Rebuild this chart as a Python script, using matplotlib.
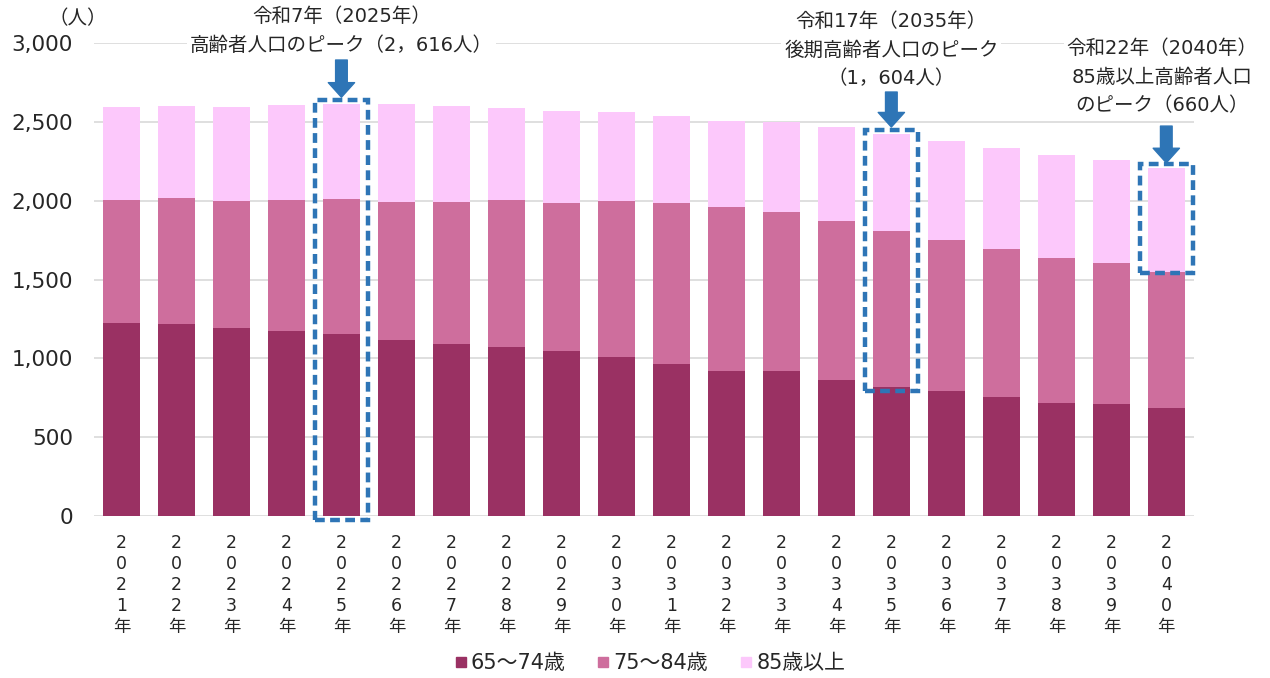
import matplotlib.pyplot as plt
import matplotlib.patches as mpatches
from matplotlib.lines import Line2D
import numpy as np

# 数字は DejaVu Sans、かな・漢字は Noto Sans CJK JP で描く
plt.rcParams['font.family'] = ['DejaVu Sans', 'Noto Sans CJK JP']

# 年次と年齢階級別の高齢者人口（人）
years = list(range(2021, 2041))
age_65_74 = [1224, 1218, 1192, 1173, 1154, 1118, 1089, 1072, 1046, 1008,
             964, 920, 920, 863, 818, 793, 757, 719, 712, 683]
age_75_84 = [780, 799, 806, 831, 855, 876, 901, 932, 939, 990,
             1021, 1040, 1008, 1008, 992, 957, 934, 919, 895, 867]
age_85_over = [590, 583, 596, 603, 607, 619, 610, 584, 584, 564,
               552, 545, 571, 596, 612, 628, 641, 650, 649, 660]

series_names = ['65～74歳', '75～84歳', '85歳以上']
colors = ['#9A3163', '#CE6E9D', '#FCC8FB']
tick_labels = ['\n'.join(str(y)) + '\n年' for y in years]

fig = plt.figure(figsize=(12.7, 6.78), dpi=100)
ax = fig.add_axes([0.074, 0.2389, 0.866, 0.6977])

x = np.arange(len(years))
low = np.array(age_65_74)
mid = np.array(age_75_84)
top = np.array(age_85_over)
total = low + mid + top

w = 0.67
ax.bar(x, low, w, color=colors[0], zorder=2)
ax.bar(x, mid, w, bottom=low, color=colors[1], zorder=2)
ax.bar(x, top, w, bottom=low + mid, color=colors[2], zorder=2)

ax.set_xlim(-0.5, len(years) - 0.5)
ax.set_ylim(0, 3000)
ax.set_yticks(np.arange(0, 3001, 500))
ax.yaxis.set_major_formatter(plt.FuncFormatter(lambda v, p: f'{int(v):,}'))
ax.grid(axis='y', color='#D9D9D9', linewidth=1.2, zorder=0)
for s in ax.spines.values():
    s.set_visible(False)
ax.tick_params(axis='y', length=0, labelsize=15.5, labelcolor='#262626', pad=15)
ax.tick_params(axis='x', length=0, labelsize=12.5, labelcolor='#262626', pad=13)
ax.set_xticks(x)
ax.set_xticklabels(tick_labels, linespacing=1.22, va='top')

fig.text(0.0614, 0.973, '（人）', fontsize=14, color='#262626', ha='center', va='center')

blue = '#2E75B6'


def box(i, y0, y1):
    r = mpatches.Rectangle((i - 0.48, y0), 0.96, y1 - y0, fill=False,
                           edgecolor=blue, linewidth=3.2, linestyle=(0, (2.2, 1.2)),
                           zorder=4, clip_on=False)
    ax.add_patch(r)


def arrow(i, tail, tip):
    ax.annotate('', xy=(i, tip), xytext=(i, tail), annotation_clip=False,
                arrowprops=dict(arrowstyle='simple,head_length=0.75,head_width=1.35,tail_width=0.6',
                                mutation_scale=14, color=blue, shrinkA=0, shrinkB=0))


i25 = years.index(2025)
i35 = years.index(2035)
i40 = years.index(2040)

box(i25, -25, total[i25] + 25)
box(i35, low[i35] - 25, total[i35] + 25)
box(i40, low[i40] + mid[i40] - 10, total[i40] + 20)

arrow(i25, 2892, total[i25] + 40)
arrow(i35, 2689, total[i35] + 45)
arrow(i40, 2473, total[i40] + 30)

tb = dict(facecolor='white', edgecolor='none', pad=2)
txt_kw = dict(fontsize=14, color='#262626', ha='center', va='center',
              linespacing=1.65, clip_on=False, bbox=tb, zorder=5)
ax.text(i25, 3076, f'令和7年（2025年）\n高齢者人口のピーク（{total[i25]:,}人）'.replace(',', '，'), **txt_kw)
ax.text(i35, 2956, f'令和17年（2035年）\n後期高齢者人口のピーク\n（{mid[i35] + top[i35]:,}人）'.replace(',', '，'), **txt_kw)
ax.text(i40 - 0.08, 2784, f'令和22年（2040年）\n85歳以上高齢者人口\nのピーク（{top[i40]}人）', **txt_kw)

handles = [Line2D([], [], marker='s', linestyle='none', markersize=6.5,
                  markerfacecolor=c, markeredgecolor=c) for c in colors]
fig.legend(handles, series_names, loc='center', bbox_to_anchor=(0.51, 0.022),
           ncol=3, frameon=False, fontsize=15, handletextpad=0.0, handlelength=1.0,
           columnspacing=1.3, labelcolor='#262626')

fig.savefig('out.png', dpi=100)
